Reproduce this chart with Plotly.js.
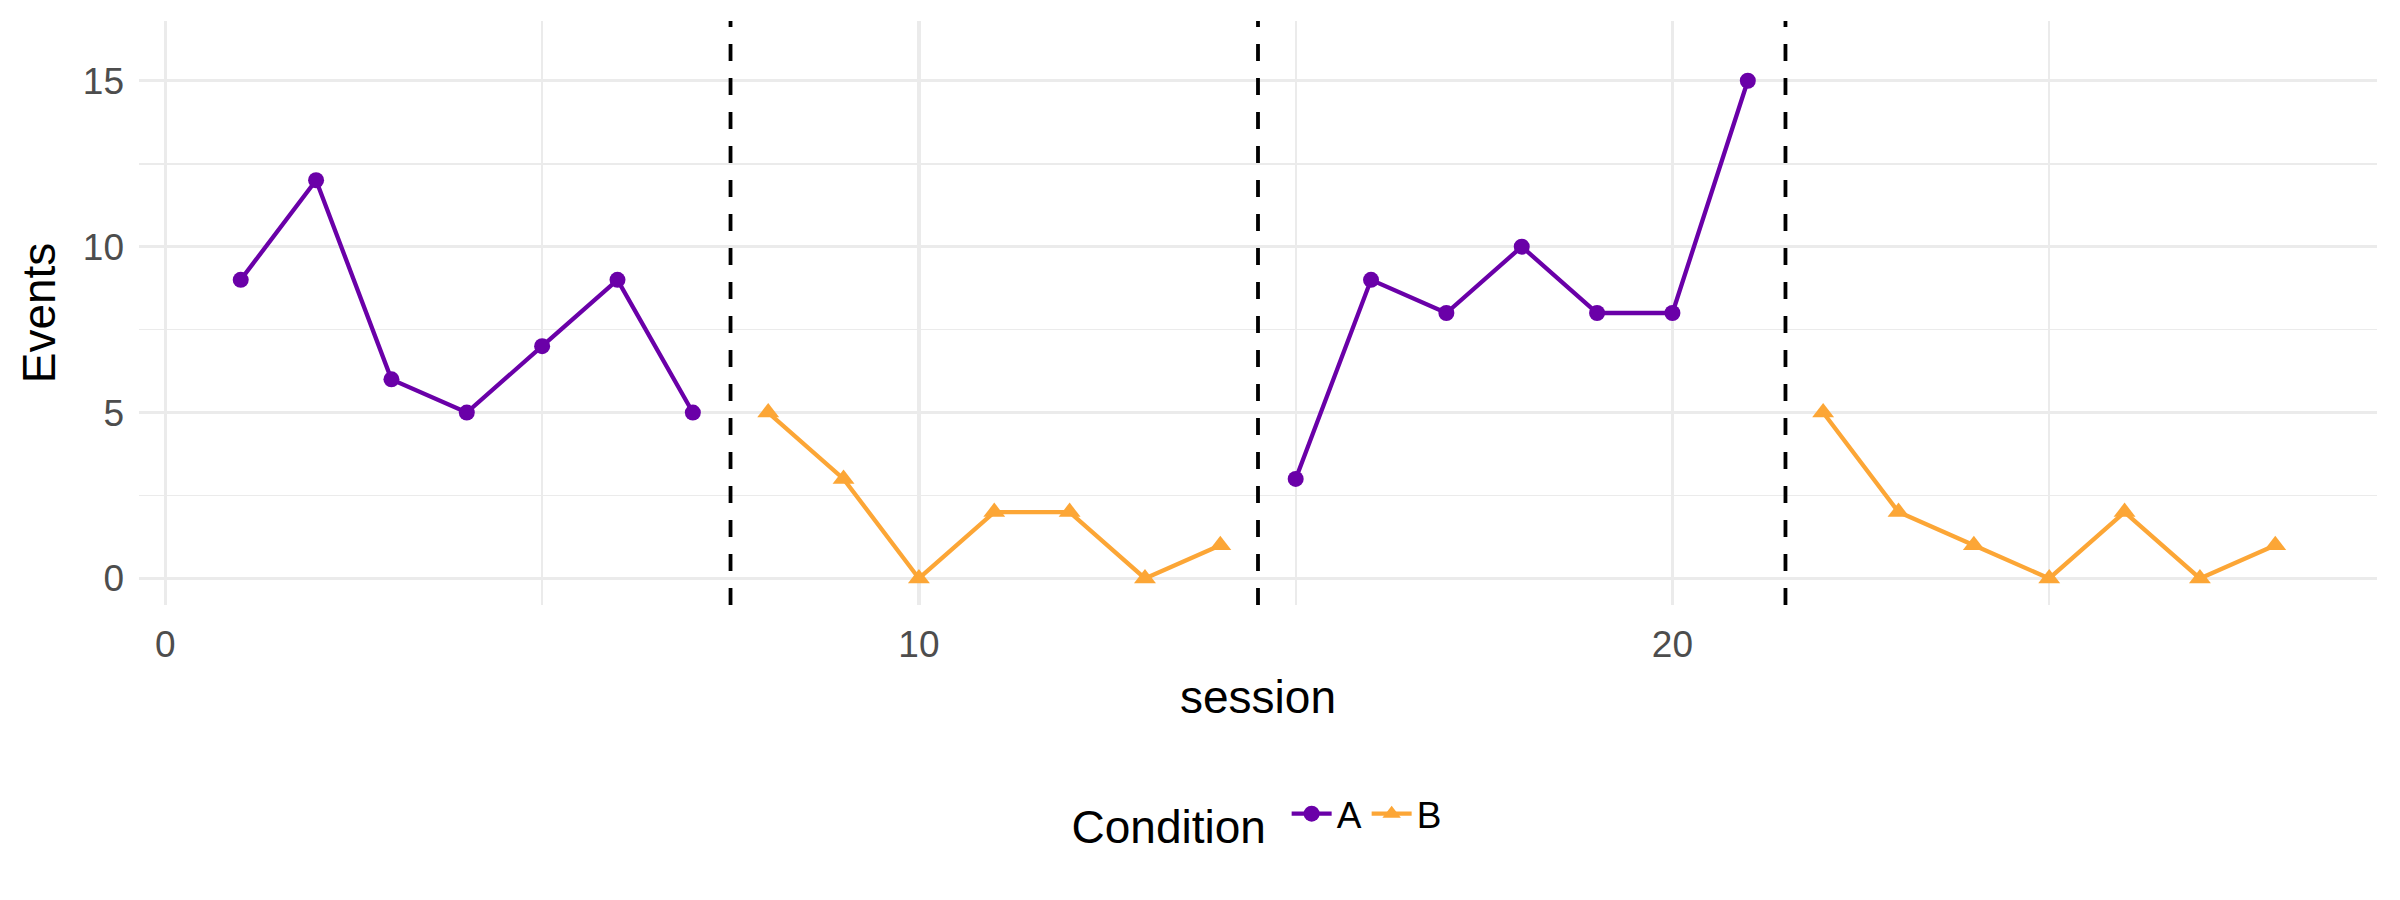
<!DOCTYPE html>
<html>
<head>
<meta charset="utf-8">
<script src="https://cdn.plot.ly/plotly-3.0.1.min.js"></script>
<style>
  html, body {margin: 0; padding: 0; background: #fff;}
  #chart {width: 2400px; height: 900px;}
</style>
</head>
<body>
<div id="chart"></div>
<script>
/////Data/////
const session = [1, 2, 3, 4, 5, 6, 7, 8, 9, 10, 11, 12, 13, 14,
                 15, 16, 17, 18, 19, 20, 21, 22, 23, 24, 25, 26, 27, 28];
const events = [9, 12, 6, 5, 7, 9, 5, 5, 3, 0, 2, 2, 0, 1,
                3, 9, 8, 10, 8, 8, 15, 5, 2, 1, 0, 2, 0, 1];
const condition = ['A', 'A', 'A', 'A', 'A', 'A', 'A', 'B', 'B', 'B', 'B', 'B', 'B', 'B',
                   'A', 'A', 'A', 'A', 'A', 'A', 'A', 'B', 'B', 'B', 'B', 'B', 'B', 'B'];
const phase = [1, 1, 1, 1, 1, 1, 1, 2, 2, 2, 2, 2, 2, 2,
               3, 3, 3, 3, 3, 3, 3, 4, 4, 4, 4, 4, 4, 4];
const phaseChanges = [7.5, 14.5, 21.5];
const xTicks = [0, 10, 20];
const yTicks = [0, 5, 10, 15];

/////Styles/////
const COLORS = {A: '#6a00a8', B: '#fca636'};
const SYMBOLS = {A: 'circle', B: 'triangle-up'};
const SIZES = {A: 16, B: 19};
const GRID = '#ebebeb';
const FONT = 'Liberation Sans, Arial, sans-serif';

// one trace per phase so lines break between phases
let traces = [];
let seen = {};
let phases = [...new Set(phase)];
phases.forEach((p) => {
  let idx = phase.map((e, i) => (e === p ? i : -1)).filter((i) => i >= 0);
  let cond = condition[idx[0]];
  traces.push({
    x: idx.map((i) => session[i]),
    y: idx.map((i) => events[i]),
    mode: 'lines+markers',
    name: cond,
    legendgroup: cond,
    showlegend: !seen[cond],
    line: {color: COLORS[cond], width: 4.3},
    marker: {color: COLORS[cond], symbol: SYMBOLS[cond], size: SIZES[cond]},
  });
  seen[cond] = true;
});

let shapes = phaseChanges.map((v) => ({
  type: 'line', xref: 'x', yref: 'paper',
  x0: v, x1: v, y0: 0, y1: 1,
  line: {color: '#000000', width: 3.8, dash: '17px,17px'},
}));

const LAYOUT = {
  width: 2400,
  height: 900,
  paper_bgcolor: '#ffffff',
  plot_bgcolor: '#ffffff',
  margin: {l: 139, r: 23, t: 21, b: 295, pad: 0},
  font: {family: FONT, size: 37, color: '#000000'},
  xaxis: {
    range: [-0.35, 29.35],
    tickvals: xTicks,
    ticktext: xTicks.map(String),
    showgrid: true,
    gridcolor: GRID,
    gridwidth: 3.2,
    minor: {dtick: 5, tick0: 0, showgrid: true, gridcolor: GRID, gridwidth: 1.7},
    zeroline: false,
    showline: false,
    ticks: '',
    ticklabelstandoff: 14,
    tickfont: {family: FONT, size: 37, color: '#4d4d4d'},
    title: {text: 'session', font: {family: FONT, size: 46, color: '#000000'}, standoff: 16},
  },
  yaxis: {
    range: [-0.8, 16.8],
    tickvals: yTicks,
    ticktext: yTicks.map(String),
    showgrid: true,
    gridcolor: GRID,
    gridwidth: 3.2,
    minor: {dtick: 2.5, tick0: 0, showgrid: true, gridcolor: GRID, gridwidth: 1.7},
    zeroline: false,
    showline: false,
    ticks: '',
    ticklabelstandoff: 14,
    tickfont: {family: FONT, size: 37, color: '#4d4d4d'},
    title: {text: 'Events', font: {family: FONT, size: 46, color: '#000000'}, standoff: 12},
  },
  shapes: shapes,
  showlegend: true,
  legend: {
    orientation: 'h',
    x: 0.5, xanchor: 'center',
    y: -0.365, yanchor: 'middle',
    font: {family: FONT, size: 37, color: '#000000'},
    title: {text: 'Condition ', font: {family: FONT, size: 46, color: '#000000'}, side: 'left'},
    itemwidth: 40,
    bgcolor: 'rgba(0,0,0,0)',
  },
};

let chart = document.getElementById('chart');
Plotly.newPlot(chart, traces, LAYOUT, {displayModeBar: false, staticPlot: true});
</script>
</body>
</html>
